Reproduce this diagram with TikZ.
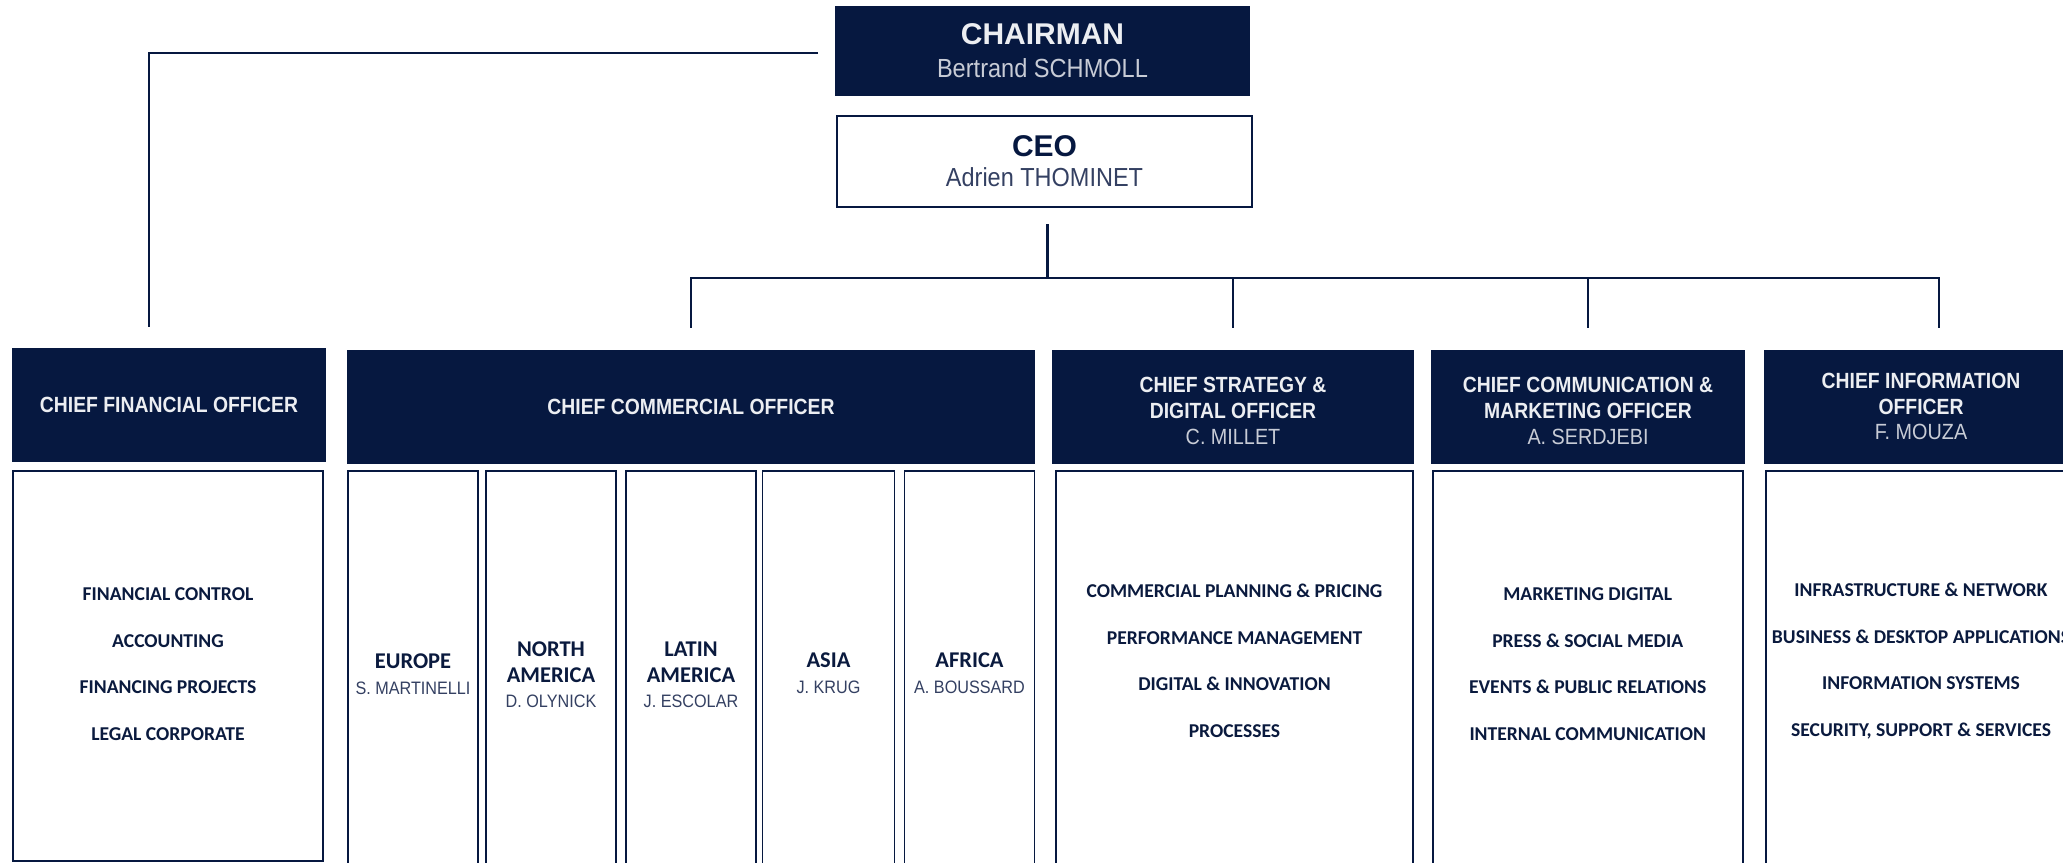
\documentclass[tikz,border=0pt]{standalone}
\usepackage{fontspec}
\setmainfont{Liberation Sans}
\newfontfamily\rob[FakeStretch=0.9]{Liberation Sans}
\newfontfamily\robm[FakeStretch=0.88]{Liberation Sans}
\newfontfamily\carl{Carlito}
\definecolor{navy}{RGB}{6,24,64}
\definecolor{hdtext}{RGB}{236,238,242}
\definecolor{lightname}{RGB}{200,204,214}
\definecolor{bodyname}{RGB}{52,64,98}
\definecolor{itemtext}{RGB}{10,26,62}
\tikzset{
  hdr/.style={fill=navy, inner sep=0pt, outer sep=0pt, anchor=north west},
  bodybox/.style={draw=navy, line width=1.8pt, fill=white, inner sep=0pt, outer sep=0pt, anchor=north west},
  htitle/.style={text=hdtext, align=center, font=\robm\bfseries\fontsize{22}{25.6}\selectfont},
  item/.style={text=itemtext, align=center, font=\carl\bfseries\fontsize{19.6}{46.5}\selectfont},
  region/.style={text=itemtext, align=center, font=\carl\bfseries\fontsize{22.5}{25.5}\selectfont},
  conn/.style={draw=navy, line width=2.2pt},
}
\newcommand{\hname}[1]{{\rob\mdseries\color{lightname}#1}}
\newcommand{\rname}[1]{{\rob\mdseries\fontsize{18}{25.5}\selectfont\color{bodyname}#1}}
\begin{document}
\begin{tikzpicture}[x=1pt,y=-1pt]
\useasboundingbox (0,0) rectangle (2063,862);
\clip (0,0) rectangle (2063,862);
\fill[white] (0,0) rectangle (2063,862);

% top boxes
\node[hdr, minimum width=415pt, minimum height=90pt] (chair) at (835,6) {};
\node[text=hdtext, align=center, font=\fontsize{30}{33}\selectfont] (chairT) at (chair.center)
  {{\bfseries CHAIRMAN}\\{\rob\fontsize{26.2}{33}\selectfont\color{lightname}Bertrand SCHMOLL}};
\node[bodybox, minimum width=415pt, minimum height=91pt] (ceo) at (837,116) {};
\node[text=navy, align=center, font=\fontsize{30}{30}\selectfont] (ceoT) at ([yshift=0.5pt]ceo.center)
  {{\bfseries CEO}\\{\rob\fontsize{26.1}{30}\selectfont\color{bodyname}Adrien THOMINET}};

% headers
\node[hdr, minimum width=314pt, minimum height=113.5pt] (cfo) at (12,348) {};
\node[htitle] (cfoT) at (cfo.center) {CHIEF FINANCIAL OFFICER};
\node[hdr, minimum width=688pt, minimum height=113.5pt] (cco) at (347,350) {};
\node[htitle] (ccoT) at (cco.center) {CHIEF COMMERCIAL OFFICER};
\node[hdr, minimum width=362pt, minimum height=113.5pt] (csdo) at (1052,350) {};
\node[htitle] (csdoT) at (1233,411) {CHIEF STRATEGY \&\\DIGITAL OFFICER\\\hname{C. MILLET}};
\node[hdr, minimum width=314pt, minimum height=113.5pt] (ccmo) at (1431,350) {};
\node[htitle] (ccmoT) at (1588,411) {CHIEF COMMUNICATION \&\\MARKETING OFFICER\\\hname{A. SERDJEBI}};
\node[hdr, minimum width=350pt, minimum height=113.5pt] (cio) at (1764,350) {};
\node[htitle] (cioT) at (1921,406.5) {CHIEF INFORMATION\\OFFICER\\\hname{F. MOUZA}};

% bodies
\node[bodybox, minimum width=310pt, minimum height=390pt] (cfoB) at (13,471) {};
\node[item] (cfoI) at (168,664) {FINANCIAL CONTROL\\ACCOUNTING\\FINANCING PROJECTS\\LEGAL CORPORATE};

\node[bodybox, minimum width=130pt, minimum height=430pt] (eu) at (348,471) {};
\node[bodybox, minimum width=130pt, minimum height=430pt] (na) at (486,471) {};
\node[bodybox, minimum width=130pt, minimum height=430pt] (la) at (626,471) {};
\node[bodybox, minimum width=132pt, minimum height=430pt] (as) at (762.5,471) {};
\node[bodybox, minimum width=130pt, minimum height=430pt] (af) at (904.5,471) {};
\node[region] (euT) at (413,674) {EUROPE\\\rname{S. MARTINELLI}};
\node[region] (naT) at (551,675) {NORTH\\AMERICA\\\rname{D. OLYNICK}};
\node[region] (laT) at (691,675) {LATIN\\AMERICA\\\rname{J. ESCOLAR}};
\node[region] (asT) at (828.5,673) {ASIA\\\rname{J. KRUG}};
\node[region] (afT) at (969.5,673) {AFRICA\\\rname{A. BOUSSARD}};

\node[bodybox, minimum width=357.6pt, minimum height=430pt] (csdoB) at (1055.7,471) {};
\node[item] (csdoI) at (1234.5,661) {COMMERCIAL PLANNING \& PRICING\\PERFORMANCE MANAGEMENT\\DIGITAL \& INNOVATION\\PROCESSES};
\node[bodybox, minimum width=310pt, minimum height=430pt] (ccmoB) at (1432.7,471) {};
\node[item] (ccmoI) at (1587.7,664) {MARKETING DIGITAL\\PRESS \& SOCIAL MEDIA\\EVENTS \& PUBLIC RELATIONS\\INTERNAL COMMUNICATION};
\node[bodybox, minimum width=360pt, minimum height=430pt] (cioB) at (1765.7,471) {};
\node[item] (cioI) at (1921,661) {INFRASTRUCTURE \& NETWORK\\BUSINESS \& DESKTOP APPLICATIONS\\INFORMATION SYSTEMS\\SECURITY, SUPPORT \& SERVICES};

% connectors
\coordinate (chairL) at ([xshift=-17pt,yshift=-2pt]chair.west);
\coordinate (cfoTop) at ([xshift=-20pt,yshift=21.3pt]cfo.north);
\draw[conn] (chairL) -| (cfoTop);
\coordinate (bus) at ([yshift=72pt]cco.north);
\coordinate (ceoBot) at ([xshift=3pt,yshift=-17pt]ceo.south);
\draw[conn] (ceoBot) -- (ceoBot |- bus);
\draw[conn] ([yshift=22.3pt]cco.north) -- (bus) -| ([yshift=22.3pt]cio.north);
\draw[conn] (csdo.north |- bus) -- ([yshift=22.3pt]csdo.north);
\draw[conn] (ccmo.north |- bus) -- ([yshift=22.3pt]ccmo.north);
\end{tikzpicture}
\end{document}
